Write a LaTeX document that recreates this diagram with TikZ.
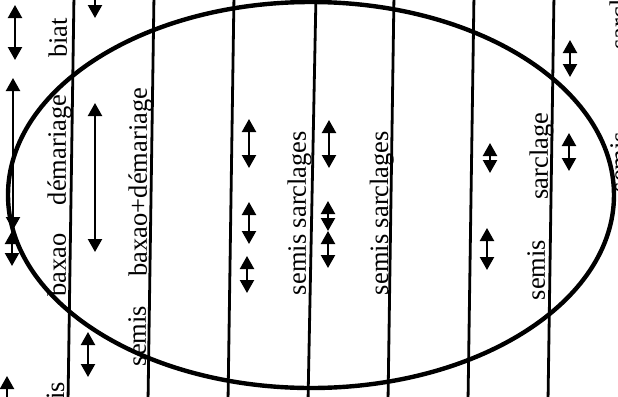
\documentclass[tikz,border=0pt]{standalone}
\usepackage{fontspec}
\setmainfont{Liberation Serif}
\usetikzlibrary{arrows.meta}
\tikzset{
rule/.style={line width=1.4pt},
oval/.style={line width=2.2pt},
span/.style={{Triangle[width=7pt,length=6.5pt]}-{Triangle[width=7pt,length=6.5pt]},line width=1.1pt},
oneway/.style={-{Triangle[width=7pt,length=6.5pt]},line width=1.1pt},
lbl/.style={rotate=90,anchor=base,inner sep=0pt,font=\fontsize{13.25}{15}\selectfont}
}

\begin{document}
\begin{tikzpicture}[x=0.5pt,y=-0.5pt]
\useasboundingbox (0,0) rectangle (618,397);
\clip (0,0) rectangle (618,397);
% column rules and the oval
\foreach \xt/\xb in {74/68,154/148,234/228,316/308,394/388,474/468,554/548}
  \draw[rule] (\xt,-5) -- (\xb,402);
\draw[oval] (311,195) ellipse [x radius=303,y radius=193];
% period arrows
\foreach \x/\ya/\yb in {15/5/60,13/78/230,12/231/266,95/103/252,88/332/377,
  249/119/168,249/202/244,247/256/293,329/120/168,328/201/231,328/231/268,
  490/143/173,487/228/270,570/40/77,569/133/171}
  \draw[span] (\x,\ya) -- (\x,\yb);
\coordinate (bot) at (7,402);
\coordinate (top) at (95,-4);
\draw[oneway] (bot) -- (7,376);
\draw[oneway] (top) -- (95,18);
% labels
\node[lbl] (biat) at (67,38) {biat};
\node[lbl] (demar) at (66,150) {démariage};
\node[lbl] (baxao) at (66,265) {baxao};
\node[lbl] (semisA) at (64,412) {semis};
\node[lbl] (baxdem) at (147,182) {baxao+démariage};
\node[lbl] (semisB) at (146,336) {semis};
\node[lbl] (semsarA) at (306,213) {semis sarclages};
\node[lbl] (semsarB) at (388,213) {semis sarclages};
\node[lbl] (sarcA) at (548,156) {sarclage};
\node[lbl] (semisC) at (545,270) {semis};
\node[lbl] (sarcB) at (628,6) {sarclage};
\node[lbl] (semisD) at (628,162) {semis};
\end{tikzpicture}
\end{document}
